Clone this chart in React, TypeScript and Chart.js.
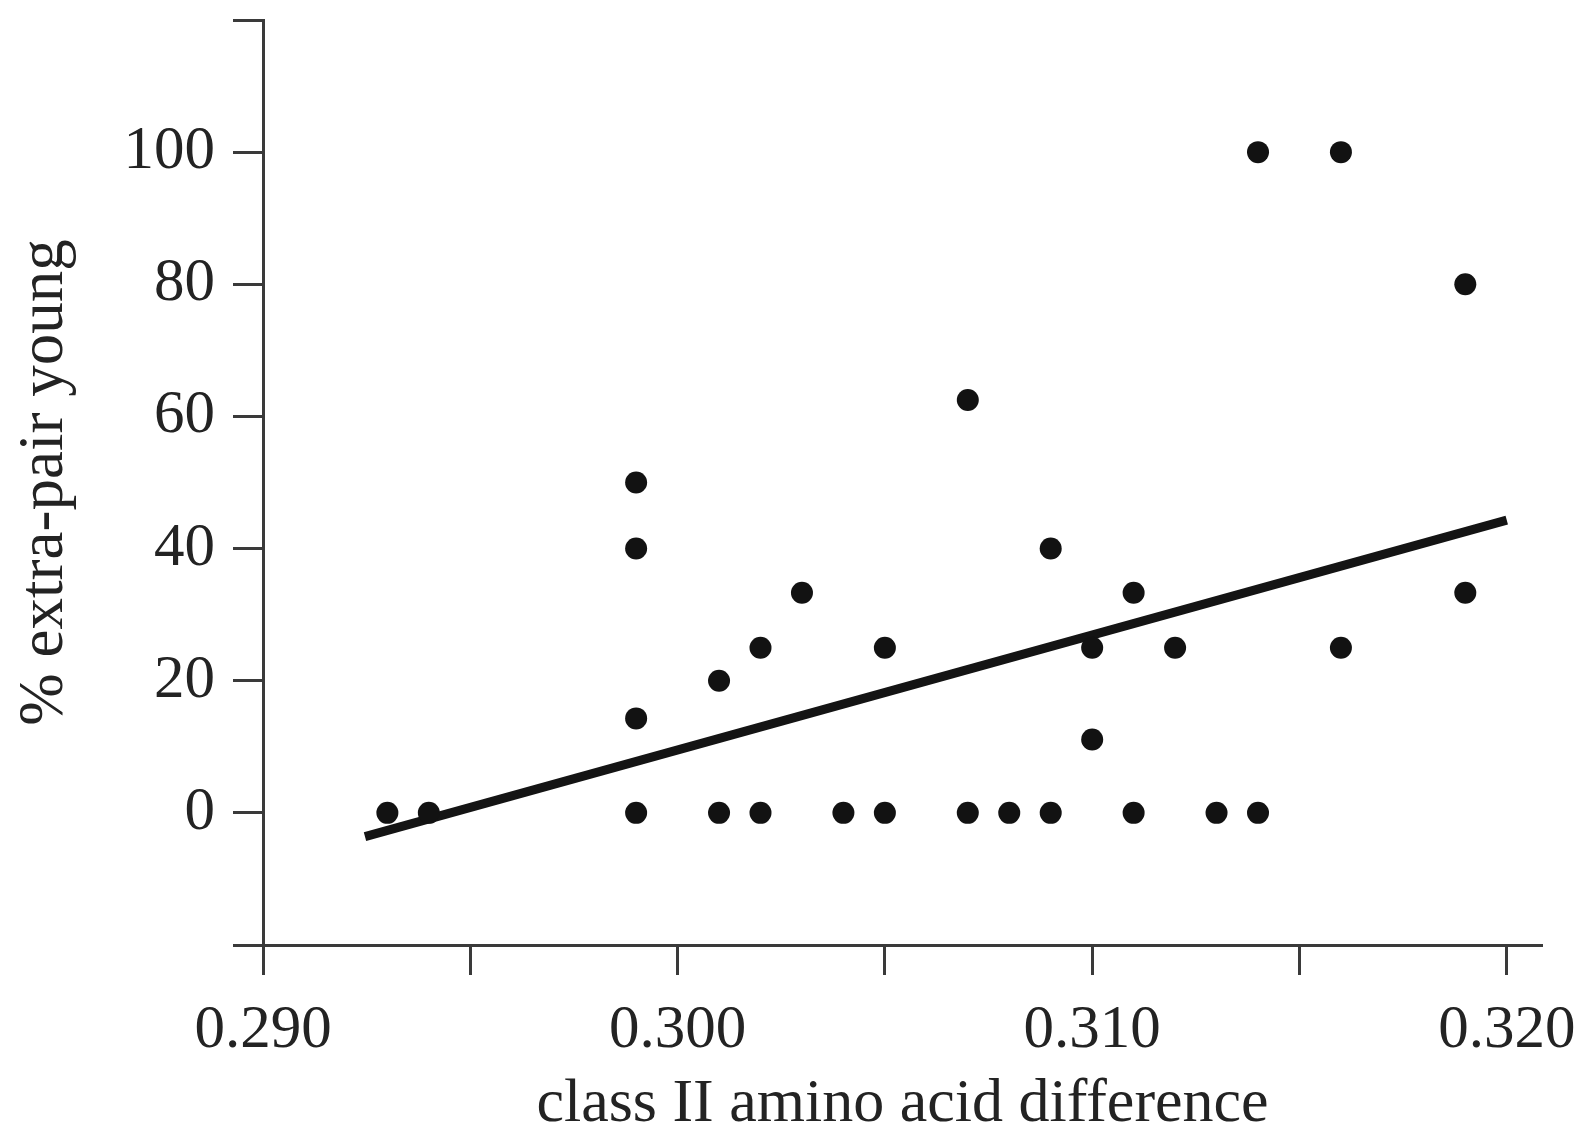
import React, { useEffect, useRef } from 'react';
import { Chart, registerables } from 'chart.js';

Chart.register(...registerables);

// class II amino acid difference (x) and % extra-pair young (y)
const xValues = [
  0.293, 0.294, 0.299, 0.299, 0.299, 0.299, 0.301, 0.301, 0.302, 0.302,
  0.303, 0.304, 0.305, 0.305, 0.307, 0.307, 0.308, 0.309, 0.309, 0.31,
  0.31, 0.311, 0.311, 0.312, 0.313, 0.314, 0.314, 0.316, 0.316, 0.319, 0.319,
];
const yValues = [
  0, 0, 50, 40, 14.3, 0, 20, 0, 25, 0,
  33.3, 0, 25, 0, 62.5, 0, 0, 40, 0, 25,
  11.1, 33.3, 0, 25, 0, 100, 0, 100, 25, 80, 33.3,
];

// regression line end points
const fitX = [0.29246, 0.32];
const fitY = [-3.6, 44.3];

const xTickLabels = ['0.290', '0.300', '0.310', '0.320'];
const yTickLabels = ['0', '20', '40', '60', '80', '100'];

const FONT = "'Liberation Serif', 'Times New Roman', serif";
const TEXT = '#232323';
const AXIS = '#3a3a3a';

export default function App() {
  const ref = useRef<HTMLCanvasElement | null>(null);

  useEffect(() => {
    document.body.style.margin = '0';
    const canvas = ref.current;
    if (!canvas) return;
    const chart = new Chart(canvas, {
      type: 'scatter',
      data: {
        datasets: [
          {
            data: xValues.map((x, i) => ({ x, y: yValues[i] })),
            backgroundColor: '#121212',
            borderWidth: 0,
            pointRadius: 11,
            order: 0,
          },
          {
            data: fitX.map((x, i) => ({ x, y: fitY[i] })),
            showLine: true,
            borderColor: '#141414',
            borderWidth: 9,
            pointRadius: 0,
            fill: false,
            order: 1,
          } as any,
        ],
      },
      options: {
        animation: false,
        responsive: false,
        events: [],
        layout: { padding: { left: 0, top: 20, right: 43, bottom: 0 } },
        plugins: { legend: { display: false }, tooltip: { enabled: false } },
        scales: {
          x: {
            type: 'linear',
            min: 0.29,
            max: 0.32085,
            afterFit: (s: any) => {
              s.height = 187;
              s.paddingLeft = 0;
              s.paddingRight = 0;
            },
            ticks: {
              stepSize: 0.005,
              includeBounds: false,
              padding: 19,
              color: TEXT,
              font: { family: FONT, size: 61, lineHeight: 1.2 },
              maxRotation: 0,
              autoSkip: false,
              callback: (v: any) => {
                const s = Number(v).toFixed(3);
                return xTickLabels.includes(s) ? s : '';
              },
            },
            grid: {
              display: true,
              drawOnChartArea: false,
              drawTicks: true,
              tickLength: 30,
              tickWidth: 3,
              tickColor: AXIS,
            },
            border: { display: true, color: AXIS, width: 3 },
            title: {
              display: true,
              text: 'class II amino acid difference',
              color: TEXT,
              font: { family: FONT, size: 62, lineHeight: 1.0 },
              padding: { top: 0, bottom: -4 },
            },
          },
          y: {
            type: 'linear',
            min: -20,
            max: 120,
            afterFit: (s: any) => {
              s.width = 263;
              s.paddingTop = 0;
              s.paddingBottom = 0;
            },
            ticks: {
              stepSize: 20,
              padding: 18,
              color: TEXT,
              font: { family: FONT, size: 61, lineHeight: 1.2 },
              autoSkip: false,
              callback: (v: any) => {
                const s = String(Math.round(Number(v)));
                return yTickLabels.includes(s) ? s : '';
              },
            },
            grid: {
              display: true,
              drawOnChartArea: false,
              drawTicks: true,
              tickLength: 30,
              tickWidth: 3,
              tickColor: AXIS,
            },
            border: { display: true, color: AXIS, width: 3 },
            title: {
              display: true,
              text: '% extra-pair young',
              color: TEXT,
              font: { family: FONT, size: 63, lineHeight: 1.0 },
              padding: { top: 14, bottom: 0 },
            },
          },
        },
      },
    });
    return () => chart.destroy();
  }, []);

  return (
    <div style={{ width: 1585, height: 1132, position: 'relative', background: '#fff' }}>
      <canvas ref={ref} width={1585} height={1132} style={{ display: 'block' }} />
    </div>
  );
}
